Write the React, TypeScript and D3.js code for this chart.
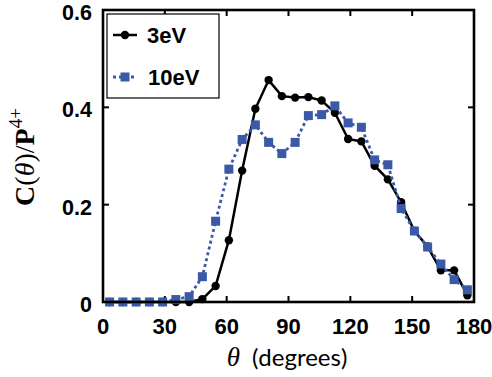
import React from "react";
import * as d3 from "d3";

const NBINS = 28;
const binIndex = d3.range(NBINS);
const angles = binIndex.map((i) => ((i + 0.5) * 180) / NBINS);

const series3eV = [
  0.0, 0.0, 0.0, 0.0, 0.0, 0.0, 0.0, 0.006, 0.033, 0.127, 0.27, 0.397, 0.456, 0.423,
  0.42, 0.421, 0.414, 0.389, 0.335, 0.33, 0.28, 0.252, 0.205, 0.146, 0.114, 0.065,
  0.065, 0.014,
];
const series10eV = [
  0.0, 0.0, 0.0, 0.0, 0.0, 0.005, 0.011, 0.052, 0.166, 0.273, 0.334, 0.364, 0.328,
  0.305, 0.328, 0.383, 0.385, 0.403, 0.368, 0.359, 0.292, 0.282, 0.192, 0.146, 0.113,
  0.078, 0.046, 0.025,
];
const xTicks = [0, 30, 60, 90, 120, 150, 180];
const yTicks = [0, 0.2, 0.4, 0.6];
const legendLabels = ["3eV", "10eV"];

const W = 492;
const H = 377;
const L = 103;
const R = 474;
const T = 10;
const B = 302;
const BLUE = "#3a5aa8";

export default function App() {
  const x = d3.scaleLinear().domain([0, 180]).range([L, R]);
  const y = d3.scaleLinear().domain([0, 0.6]).range([B, T]);
  const line = d3
    .line<number>()
    .x((_, i) => x(angles[i]))
    .y((d) => y(d));
  const tickFont = "'Liberation Sans', Arial, sans-serif";
  const sq = 9;
  return (
    <svg
      width={W}
      height={H}
      style={{ position: "absolute", left: 0, top: 0, background: "#fff" }}
    >
      {/* frame ticks */}
      {xTicks.map((t) => (
        <g key={"xt" + t}>
          <line x1={x(t)} x2={x(t)} y1={B} y2={B - 6} stroke="#000" strokeWidth={2} />
          <line x1={x(t)} x2={x(t)} y1={T} y2={T + 6} stroke="#000" strokeWidth={2} />
          <text
            x={x(t)}
            y={333.5}
            textAnchor="middle"
            fontFamily={tickFont}
            fontWeight="bold"
            fontSize={22}
          >
            {t}
          </text>
        </g>
      ))}
      {yTicks.map((t) => (
        <g key={"yt" + t}>
          <line x1={L} x2={L + 6} y1={y(t)} y2={y(t)} stroke="#000" strokeWidth={2} />
          <line x1={R} x2={R - 6} y1={y(t)} y2={y(t)} stroke="#000" strokeWidth={2} />
          <text
            x={92}
            y={y(t) + 10}
            textAnchor="end"
            fontFamily={tickFont}
            fontWeight="bold"
            fontSize={21.5}
          >
            {t === 0 ? "0" : t.toFixed(1)}
          </text>
        </g>
      ))}

      {/* 3eV series */}
      <path d={line(series3eV) || ""} fill="none" stroke="#000" strokeWidth={2.5} />
      {series3eV.map((v, i) => (
        <circle key={"c" + i} cx={x(angles[i])} cy={y(v)} r={4.2} fill="#000" />
      ))}

      {/* 10eV series */}
      <path
        d={line(series10eV) || ""}
        fill="none"
        stroke={BLUE}
        strokeWidth={2.8}
        strokeDasharray="3,3"
      />
      {series10eV.map((v, i) => (
        <rect
          key={"s" + i}
          x={x(angles[i]) - sq / 2}
          y={y(v) - sq / 2}
          width={sq}
          height={sq}
          fill={BLUE}
        />
      ))}

      {/* frame */}
      <rect x={L} y={T} width={R - L} height={B - T} fill="none" stroke="#000" strokeWidth={2.6} />

      {/* legend */}
      <rect x={107} y={14} width={112} height={84} fill="#fff" stroke="#000" strokeWidth={1.2} />
      <line x1={113} x2={137} y1={35} y2={35} stroke="#000" strokeWidth={2.5} />
      <circle cx={125} cy={35} r={4.2} fill="#000" />
      <text x={147} y={43} fontFamily={tickFont} fontWeight="bold" fontSize={22}>
        {legendLabels[0]}
      </text>
      <line x1={113} x2={137} y1={77} y2={77} stroke={BLUE} strokeWidth={2.8} strokeDasharray="3,3" />
      <rect x={125 - sq / 2} y={77 - sq / 2} width={sq} height={sq} fill={BLUE} />
      <text x={148} y={85} fontFamily={tickFont} fontWeight="bold" fontSize={22}>
        {legendLabels[1]}
      </text>

      {/* axis labels */}
      <text x={287} y={366} textAnchor="middle" fontSize={24}>
        <tspan fontFamily="'Liberation Serif', serif" fontStyle="italic" fontSize={27}>
          θ
        </tspan>
        <tspan fontFamily="Lato, 'Open Sans', sans-serif" dx={12}>
          (degrees)
        </tspan>
      </text>
      <text
        transform={`translate(34, 157) rotate(-90)`}
        textAnchor="middle"
        fontFamily="'Liberation Serif', serif"
        fontSize={28}
      >
        <tspan fontWeight="bold">C</tspan>
        <tspan>(</tspan>
        <tspan fontStyle="italic">θ</tspan>
        <tspan>)/</tspan>
        <tspan fontWeight="bold">P</tspan>
        <tspan fontSize={19} dy={-12}>
          4+
        </tspan>
      </text>
    </svg>
  );
}
